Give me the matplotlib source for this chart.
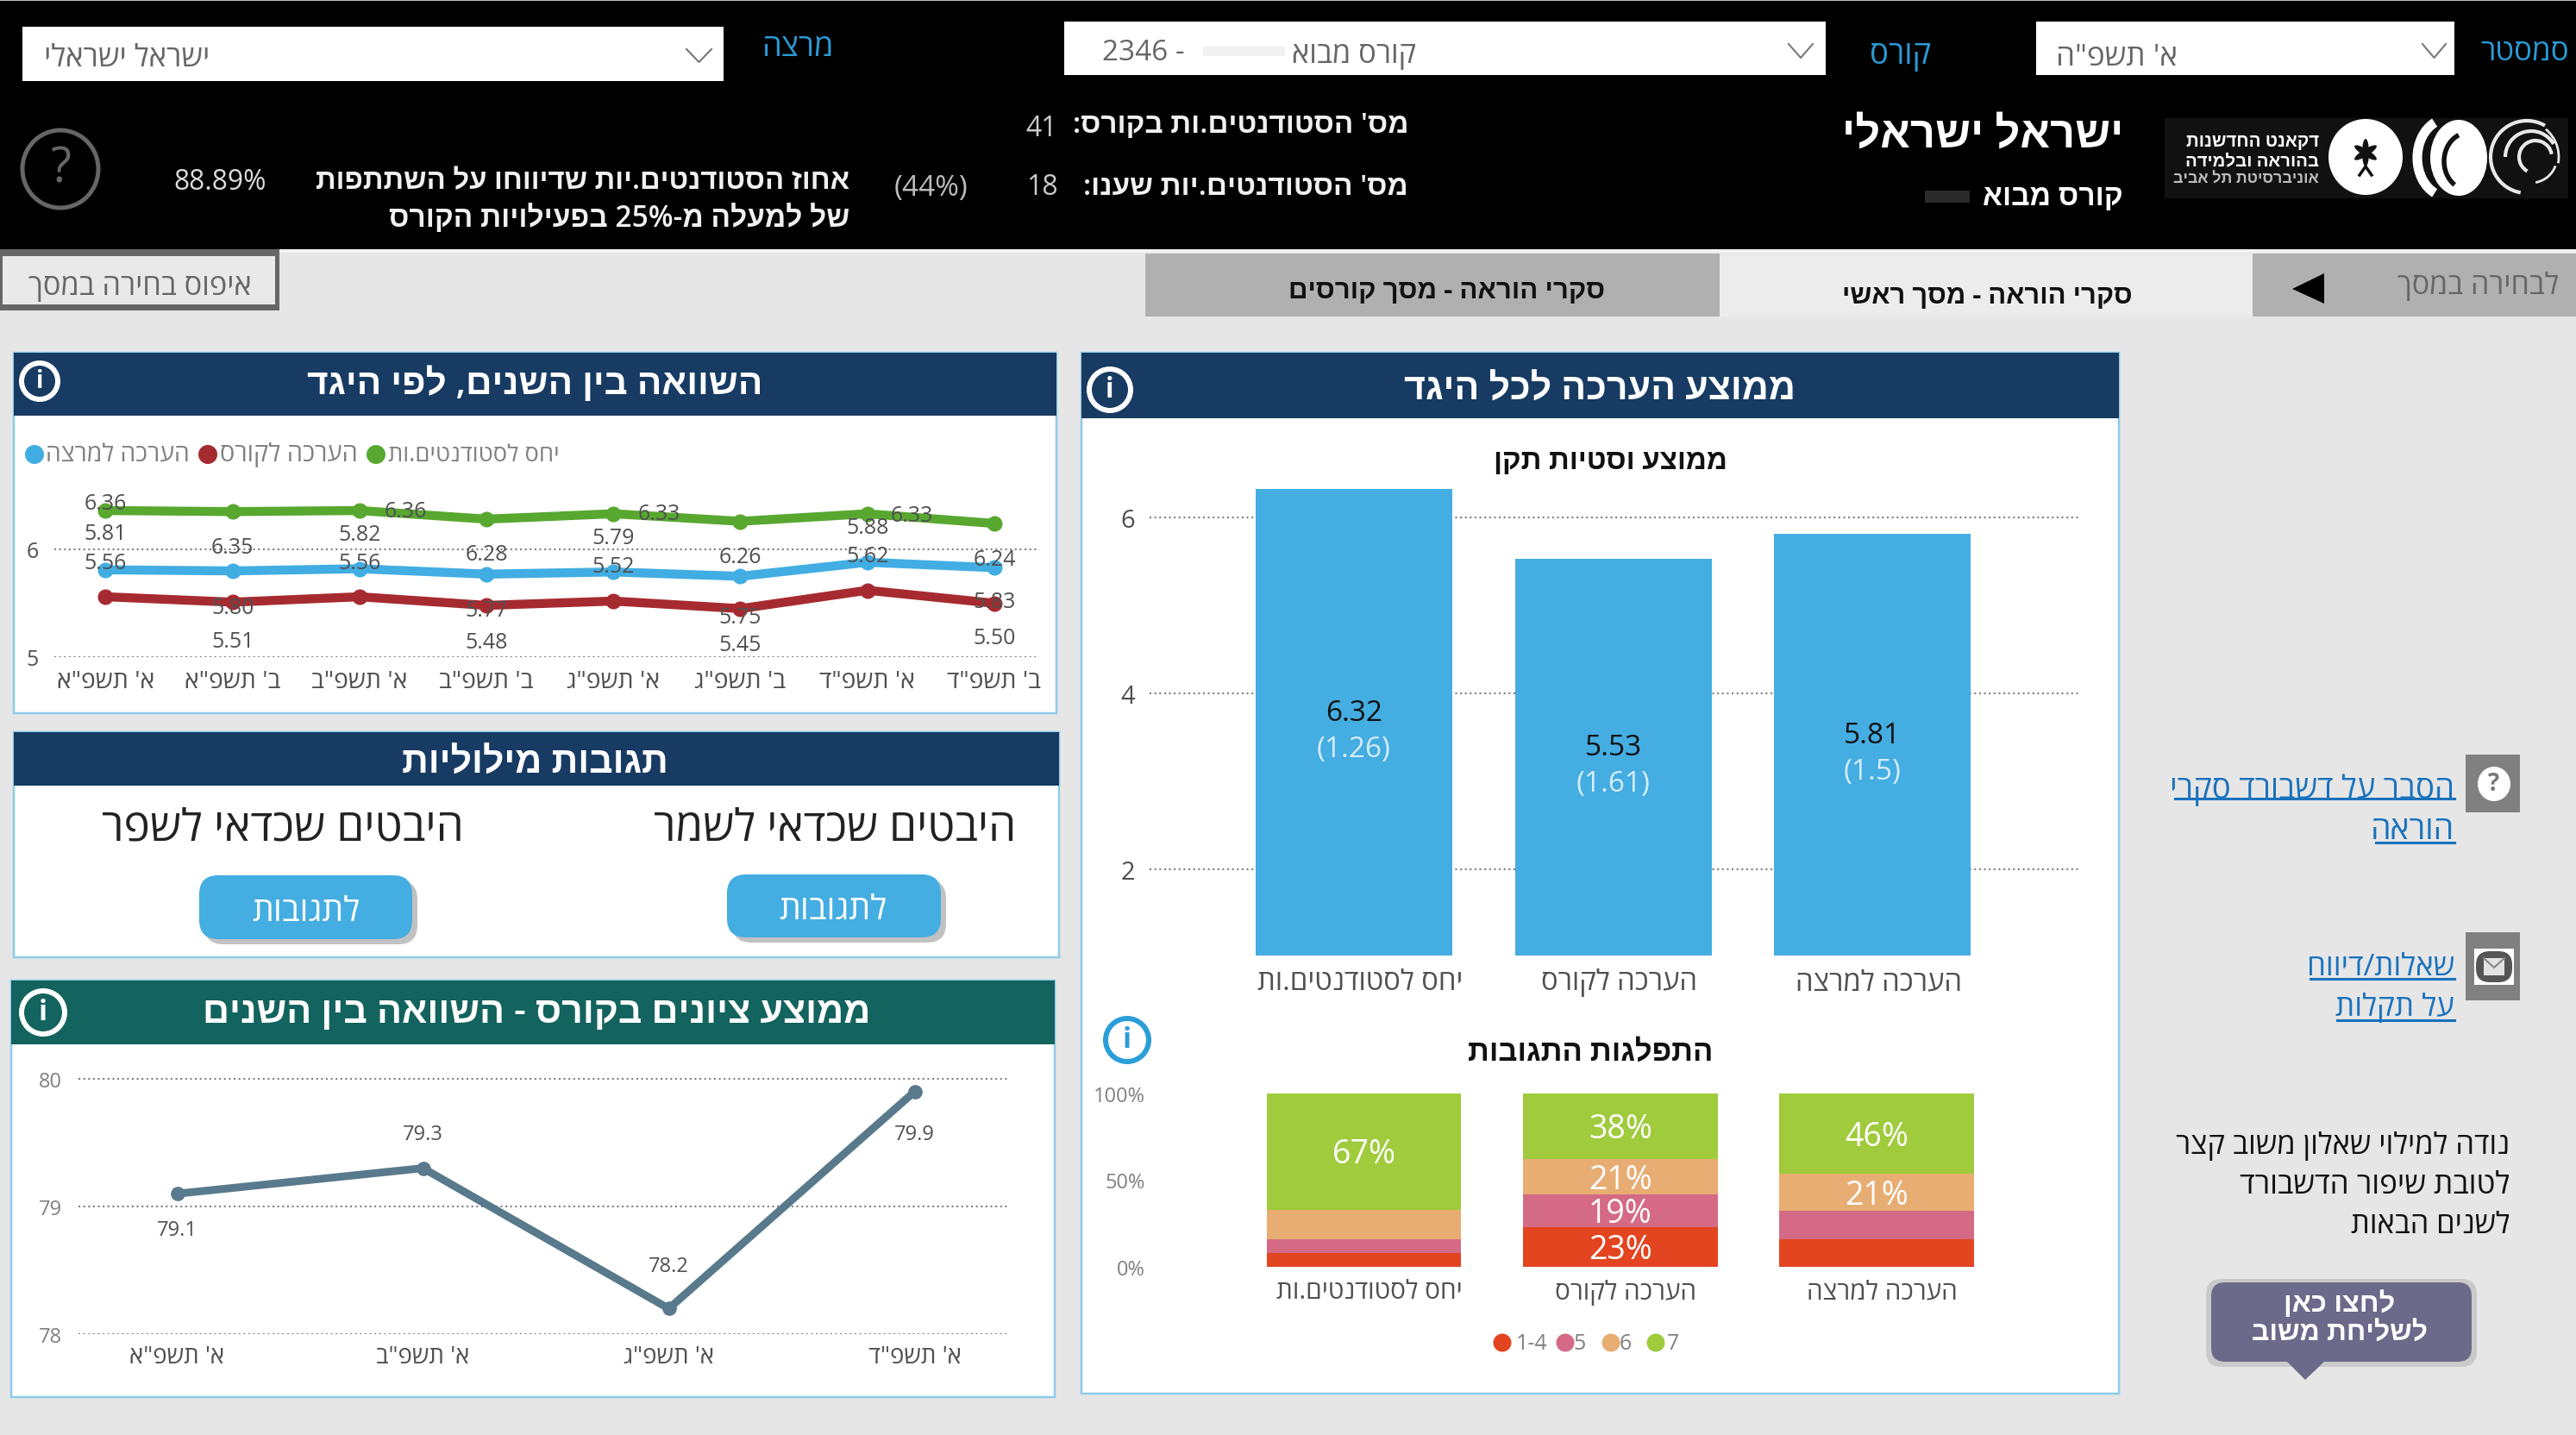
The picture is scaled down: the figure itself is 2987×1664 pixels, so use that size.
import re
import matplotlib
matplotlib.use("Agg")
import matplotlib.pyplot as plt
from matplotlib.patches import Rectangle, Ellipse, FancyBboxPatch, Polygon, Arc
from matplotlib.textpath import TextPath
from matplotlib.font_manager import FontProperties
from matplotlib.transforms import ScaledTranslation

FAMILY = ['Open Sans', 'Liberation Sans', 'DejaVu Sans']
plt.rcParams['font.family'] = FAMILY

# ---------- data ----------
semesters = ["א' תשפ\"א", "ב' תשפ\"א", "א' תשפ\"ב", "ב' תשפ\"ב",
             "א' תשפ\"ג", "ב' תשפ\"ג", "א' תשפ\"ד", "ב' תשפ\"ד"]
attitude = [6.36, 6.35, 6.36, 6.28, 6.33, 6.26, 6.33, 6.24]
lecturer = [5.81, 5.80, 5.82, 5.77, 5.79, 5.75, 5.88, 5.83]
course = [5.56, 5.51, 5.56, 5.48, 5.52, 5.45, 5.62, 5.50]

grade_years = ["א' תשפ\"א", "א' תשפ\"ב", "א' תשפ\"ג", "א' תשפ\"ד"]
grades = [79.1, 79.3, 78.2, 79.9]

items = ["יחס לסטודנטים.ות", "הערכה לקורס", "הערכה למרצה"]
means = [6.32, 5.53, 5.81]
stds = [1.26, 1.61, 1.5]

stack_levels = ["1-4", "5", "6", "7"]
share_1_4 = [8, 23, 16]
share_5 = [8, 19, 16]
share_6 = [17, 21, 21]
share_7 = [67, 38, 46]
shown_1_4 = [False, True, False]
shown_5 = [False, True, False]
shown_6 = [False, True, True]
shown_7 = [True, True, True]

# ---------- style ----------
W, H = 2987, 1665
BG = '#e6e6e6'
NAVY = '#173b63'
TEAL = '#13635f'
BORDER = '#8fcbea'
BLUE = '#44ade2'
C_GREEN, C_BLUE, C_RED = '#58a830', '#41ade3', '#a62b30'
STACK = ['#e2451f', '#d46a85', '#e8ad73', '#9fcb3c']
GRAY = '#505050'
LINK = '#1a72bd'
SEMI = 'semibold'

fig = plt.figure(figsize=(W / 100, H / 100), dpi=100, facecolor=BG)
ax0 = fig.add_axes([0, 0, 1, 1])
ax0.set_xlim(0, W)
ax0.set_ylim(H, 0)
ax0.axis('off')


def he(s):
    """Hebrew to visual order, as matplotlib has no bidi layout."""
    return "".join(reversed(re.findall(r"\d[\d.,%]*|.", s)))


def fit(s, w, weight='normal'):
    tp = TextPath((0, 0), s, size=10, prop=FontProperties(family=FAMILY, weight=weight))
    return 10 * (w * 0.72) / tp.get_extents().width


def T(x, y, s, w=None, size=16, ha='center', color='black', weight='normal', hebrew=True):
    s = he(s) if hebrew else s
    if w:
        size = fit(s, w, weight)
    return ax0.text(x, y + 3, s, fontsize=size, ha=ha, va='center', color=color, weight=weight)


def rect(x0, y0, x1, y1, fc, ec='none', lw=0, z=1):
    ax0.add_patch(Rectangle((x0, y0), x1 - x0, y1 - y0, fc=fc, ec=ec, lw=lw * .72, zorder=z))


def rounded(x0, y0, x1, y1, r, fc, z=2, alpha=None):
    ax0.add_patch(FancyBboxPatch((x0 + r, y0 + r), x1 - x0 - 2 * r, y1 - y0 - 2 * r,
                                 boxstyle=f"round,pad={r},rounding_size={r}",
                                 fc=fc, ec='none', zorder=z, alpha=alpha))


def chart_axes(x0, y0, x1, y1):
    ax = fig.add_axes([x0 / W, 1 - y1 / H, (x1 - x0) / W, (y1 - y0) / H])
    ax.patch.set_alpha(0)
    for s in ax.spines.values():
        s.set_visible(False)
    return ax


def grid(ax):
    ax.grid(axis='y', color='#808080', lw=1.5, linestyle=(0, (1.0, 1.7)), zorder=0)
    ax.grid(axis='x', visible=False)
    ax.set_axisbelow(True)


def shift(labels, dx):
    for lb in labels:
        lb.set_transform(lb.get_transform() + ScaledTranslation(dx / 100, 0, fig.dpi_scale_trans))


def info(x, y, r, color='white', lw=6):
    ax0.add_patch(Ellipse((x, y), 2 * r, 2 * r, fc='none', ec=color, lw=lw * .72, zorder=5))
    ax0.text(x, y, 'i', fontsize=r * .95, ha='center', va='center', color=color, weight='bold', zorder=5)


def chevron(x0, x1, y0, y1):
    ax0.plot([x0, (x0 + x1) / 2, x1], [y0, y1, y0], color='#777777', lw=1.5, zorder=3)


# ---------- header ----------
rect(0, 0, W, 290, 'black')
rect(0, 0, W, 2, '#bbbbbb', z=2)
rect(0, 290, W, 294, '#f2f2f2', z=2)
for x0, x1, y0, y1 in [(26, 839, 32, 95), (1234, 2117, 26, 88), (2361, 2846, 26, 88)]:
    rect(x0, y0, x1, y1, 'white', z=2)
chevron(796, 825, 58, 73)
chevron(2074, 2102, 52, 68)
chevron(2809, 2836, 52, 68)
T(147, 65, "ישראל ישראלי", 187, color='#666666')
T(1326, 58, "2346 -", None, size=24, color='#666666', hebrew=False)
rect(1395, 55, 1490, 66, '#f1f1f1', z=3)
T(1570, 61, "קורס מבוא", 141, color='#666666')
T(2454, 64, "א' תשפ\"ה", 136, color='#666666')
T(926, 53, "מרצה", 77, color='#2b9ad6')
T(2204, 62, "קורס", 68, color='#2b9ad6')
T(2928, 58, "סמסטר", 100, color='#2b9ad6')

T(1633, 143, "מס' הסטודנטים.ות בקורס:", 385, ha='right', color='#f0f0f0', weight=SEMI)
T(1633, 215, "מס' הסטודנטים.יות שענו:", 373, ha='right', color='#f0f0f0', weight=SEMI)
T(1208, 146, "41", None, size=23, color='#cccccc', hebrew=False)
T(1208, 215, "18", None, size=23, color='#cccccc', hebrew=False)
T(1080, 215, "(44%)", 83, color='#bbbbbb', hebrew=False)
T(985, 208, "אחוז הסטודנטים.יות שדיווחו על השתתפות", 617, ha='right', color='#f0f0f0', weight=SEMI)
T(985, 251, "של למעלה מ-25% בפעילויות הקורס", 533, ha='right', color='#f0f0f0', weight=SEMI)
T(255, 209, "88.89%", 104, color='#dddddd', hebrew=False)
ax0.add_patch(Ellipse((70, 197), 88, 90, fc='none', ec='#666666', lw=3.6, zorder=3))
T(70, 194, "?", None, size=40, color='#666666', hebrew=False)

T(2299, 155, "ישראל ישראלי", 318, color='white', weight='bold')
T(2380, 226, "קורס מבוא", 160, color='white', weight='bold')
rect(2232, 222, 2284, 236, '#2a2a2a', z=2)

# logo
rect(2510, 138, 2978, 231, '#111111', z=2)
for yy, txt, ww, cc in [(161, "דקאנט החדשנות", 153, 'white'), (184, "בהוראה ובלמידה", 153, 'white'),
                        (205, "אוניברסיטת תל אביב", 169, '#bbbbbb')]:
    tx = T(2689, yy, txt, ww, ha='right', color=cc, weight='bold')
    tx.set_zorder(3)
ax0.add_patch(Ellipse((2743, 183), 86, 88, fc='white', zorder=3))
for ang, hh in [(0, 32), (58, 30), (-58, 30)]:
    ax0.add_patch(Ellipse((2743, 178), 8, hh, angle=ang, fc='#111111', zorder=4))
ax0.plot([2736, 2743, 2750], [204, 194, 204], color='#111111', lw=2.5, zorder=4)
ax0.add_patch(Ellipse((2851, 184), 66, 88, fc='white', zorder=3))
ax0.add_patch(Arc((2862, 188), 56, 66, theta1=120, theta2=250, ec='#111111', lw=4, zorder=4))
ax0.add_patch(Arc((2838, 184), 70, 90, theta1=110, theta2=250, ec='white', lw=8, zorder=3))
for cx, dd, t1, t2, lw_ in [(2930, 84, 100, 300, 3), (2935, 60, 180, 330, 3), (2935, 60, 20, 80, 2),
                            (2940, 38, 120, 350, 3), (2925, 84, 310, 370, 2)]:
    ax0.add_patch(Arc((cx, 183), dd, dd, theta1=t1, theta2=t2, ec='#e8e8e8', lw=lw_, zorder=3))

# ---------- tab row ----------
rect(0, 290, 324, 361, '#666666', z=2)
rect(3, 298, 319, 354, '#e9e9e9', z=3)
T(162, 330, "איפוס בחירה במסך", 256, color='#666666').set_zorder(4)
rect(1328, 295, 1994, 368, '#b0b0b0')
rect(1994, 297, 2612, 368, '#ececec')
rect(2612, 295, W, 368, '#b0b0b0')
T(1678, 335, "סקרי הוראה - מסך קורסים", 363, color='#111111', weight='bold')
T(2304, 341, "סקרי הוראה - מסך ראשי", 332, color='#111111', weight='bold')
T(2874, 329, "לבחירה במסך", 185, color='#666666')
ax0.add_patch(Polygon([[2658, 336], [2695, 318], [2695, 353]], fc='black', zorder=3))


# ---------- panels ----------
def panel(x0, y0, x1, ybar, y1, head):
    rect(x0, y0, x1, y1, 'white', BORDER, 2.5)
    rect(x0, y0, x1, ybar, head, z=2)


panel(16, 410, 1225, 483, 828, NAVY)
T(620, 443, "השוואה בין השנים, לפי היגד", 524, color='white', weight=SEMI)
info(46, 443, 21)
panel(16, 850, 1228, 912, 1111, NAVY)
T(620, 882, "תגובות מילוליות", 305, color='white', weight=SEMI)
panel(13, 1138, 1223, 1212, 1621, TEAL)
T(622, 1172, "ממוצע ציונים בקורס - השוואה בין השנים", 768, color='white', weight=SEMI)
info(50, 1175, 25)
panel(1254, 410, 2457, 486, 1617, NAVY)
T(1855, 449, "ממוצע הערכה לכל היגד", 450, color='white', weight=SEMI)
info(1287, 453, 24)

# verbal feedback panel
T(328, 958, "היבטים שכדאי לשפר", 415, color='#222222')
T(968, 958, "היבטים שכדאי לשמר", 415, color='#222222')
for x0, y0, x1, y1, tx, ty in [(231, 1016, 478, 1090, 355, 1055), (843, 1015, 1091, 1088, 966, 1053)]:
    rounded(x0 + 6, y0 + 6, x1 + 6, y1 + 6, 22, '#999999', z=2, alpha=.6)
    rounded(x0, y0, x1, y1, 22, BLUE, z=3)
    T(tx, ty, "לתגובות", 123, color='white').set_zorder(4)

# ---------- panel 1: line chart ----------
ax1 = chart_axes(63, 540, 1205, 763)
ax1.set_xlim((63 - 122.5) / 147.2, (1205 - 122.5) / 147.2)
ax1.set_ylim(5, 5 + (763 - 540) / 125)
xs1 = list(range(len(semesters)))
off_green = [(0, 8), (0, -41), (53, -1), (0, -41), (53, 0), (0, -41), (52, -2), (0, -42)]
off_blue = [(0, 42), (0, -43), (0, 40), (0, -42), (0, 40), (0, -47), (0, 40), (0, -39)]
off_red = [(0, 40), (0, -45), (0, 39), (0, -43), (0, 40), (0, -42), (0, 40), (0, -40)]
for series, col in [(course, C_RED), (lecturer, C_BLUE), (attitude, C_GREEN)]:
    ax1.plot(xs1, series, color=col, lw=7.5, marker='o', ms=12, zorder=3, clip_on=False)
for series, offs in [(course, off_red), (lecturer, off_blue), (attitude, off_green)]:
    for xv, v, off in zip(xs1, series, offs):
        ax1.annotate(f"{v:.2f}", (xv, v), xytext=off, textcoords='offset pixels', ha='center', va='center',
                     fontsize=18, color=GRAY, zorder=5, annotation_clip=False)
ax1.set_yticks([5, 6])
ax1.set_yticklabels(['5', '6'], fontsize=18, color=GRAY)
ax1.set_xticks(xs1)
ax1.set_xticklabels([he(s) for s in semesters], fontsize=fit(he(semesters[0]), 110), color=GRAY)
ax1.tick_params(length=0)
ax1.tick_params(axis='y', pad=13)
ax1.tick_params(axis='x', pad=10)
grid(ax1)
for cx, col, tx, tw, lab in [(40, C_BLUE, 136, 162, "הערכה למרצה"), (241, C_RED, 335, 156, "הערכה לקורס"),
                             (436, C_GREEN, 549, 195, "יחס לסטודנטים.ות")]:
    ax0.add_patch(Ellipse((cx, 528), 22, 22, fc=col, zorder=3))
    T(tx, 525, lab, tw, color='#808080')

# ---------- panel 3: grades ----------
ax3 = chart_axes(91, 1225, 1168, 1548)
ax3.set_xlim((91 - 205.5) / 285, (1168 - 205.5) / 285)
ax3.set_ylim(78, 78 + (1548 - 1225) / 148)
xs3 = list(range(len(grade_years)))
ax3.plot(xs3, grades, color='#597a8c', lw=6.5, marker='o', ms=11, zorder=3)
off_grades = [(0, -42), (0, 40), (0, 49), (0, -49)]
for xv, v, off in zip(xs3, grades, off_grades):
    ax3.annotate(f"{v:.1f}", (xv, v), xytext=off, textcoords='offset pixels', ha='center', va='center',
                 fontsize=17, color=GRAY, zorder=5)
ax3.set_yticks([78, 79, 80])
ax3.set_yticklabels(['78', '79', '80'], fontsize=17, color='#808080')
ax3.set_xticks(xs3)
ax3.set_xticklabels([he(s) for s in grade_years], fontsize=fit(he(grade_years[0]), 107), color=GRAY)
ax3.tick_params(length=0)
ax3.tick_params(axis='y', pad=14)
ax3.tick_params(axis='x', pad=9)
grid(ax3)

# ---------- panel 4: mean bars ----------
T(1867, 533, "ממוצע וסטיות תקן", 266, color='#111111', weight='bold')
ax4 = chart_axes(1333, 540, 2410, 1109)
xs4 = list(range(len(items)))
ax4.set_xlim((1333 - 1570) / 300.5, (2410 - 1570) / 300.5)
ax4.set_ylim(6 - (1109 - 601) / 102, 6 + (601 - 540) / 102)
ax4.bar(xs4, means, width=228 / 300.5, color=BLUE, zorder=3)
for xv, m, sd in zip(xs4, means, stds):
    mid = (ax4.get_ylim()[0] + m) / 2
    ax4.annotate(f"{m:.2f}", (xv, mid), xytext=(0, 11), textcoords='offset pixels', ha='center', va='center',
                 fontsize=24, color='#111111', zorder=5)
    ax4.annotate(f"({sd:g})", (xv, mid), xytext=(0, -31), textcoords='offset pixels', ha='center', va='center',
                 fontsize=24, color='#d5ecf8', zorder=5)
ax4.set_yticks([2, 4, 6])
ax4.set_yticklabels(['2', '4', '6'], fontsize=21, color=GRAY)
ax4.set_xticks(xs4)
ax4.set_xticklabels([he(s) for s in items], fontsize=fit(he(items[1]), 177), color=GRAY)
ax4.tick_params(length=0)
ax4.tick_params(axis='y', pad=12)
ax4.tick_params(axis='x', pad=10)
shift(ax4.get_xticklabels(), 7)
grid(ax4)

# ---------- panel 4: stacked bars ----------
T(1844, 1218, "התפלגות התגובות", 281, color='#111111', weight='bold')
info(1307, 1207, 25, color='#2b9ed8')
ax5 = chart_axes(1340, 1269, 2420, 1470)
xs5 = list(range(len(items)))
ax5.set_xlim((1340 - 1581.5) / 297.25, (2420 - 1581.5) / 297.25)
ax5.set_ylim(0, 100)
layers = [share_1_4, share_5, share_6, share_7]
shown = [shown_1_4, shown_5, shown_6, shown_7]
totals = [sum(lay[i] for lay in layers) for i in xs5]
bottoms = [0.0 for _ in xs5]
for lay, flag, col in zip(layers, shown, STACK):
    heights = [100 * v / t for v, t in zip(lay, totals)]
    ax5.bar(xs5, heights, bottom=bottoms, width=225.5 / 297.25, color=col, zorder=3)
    for i in xs5:
        if flag[i]:
            ax5.annotate(f"{lay[i]}%", (i, bottoms[i] + heights[i] / 2), xytext=(0, -3), textcoords='offset pixels',
                         ha='center', va='center', color='white', fontsize=27, zorder=5)
    bottoms = [b + h for b, h in zip(bottoms, heights)]
ax5.set_yticks([0, 50, 100])
ax5.set_yticklabels(['0%', '50%', '100%'], fontsize=17, color='#808080')
ax5.set_xticks(xs5)
ax5.set_xticklabels([he(s) for s in items], fontsize=fit(he(items[1]), 160), color=GRAY)
ax5.tick_params(length=0)
ax5.tick_params(axis='y', pad=9)
ax5.tick_params(axis='x', pad=10)
shift(ax5.get_xticklabels(), 6)
for cx, tx, col, lab in zip([1742, 1815, 1868, 1920], [1776, 1832, 1885, 1940], STACK, stack_levels):
    ax0.add_patch(Ellipse((cx, 1558), 21, 21, fc=col, zorder=3))
    T(tx, 1556, lab, None, size=18, color='#808080', hebrew=False)

# ---------- sidebar ----------
rect(2859, 876, 2922, 943, '#808080')
ax0.add_patch(Ellipse((2892, 910), 38, 40, fc='white', zorder=3))
T(2892, 907, "?", None, size=20, color='#777777', weight='bold', hebrew=False).set_zorder(4)
rect(2859, 1082, 2922, 1161, '#808080')
rect(2869, 1101, 2915, 1143, 'white', z=3)
rounded(2871, 1104, 2913, 1140, 16, '#555555', z=4)
rect(2880, 1112, 2904, 1132, '#e2e2e2', z=5)
ax0.plot([2880, 2892, 2904], [1112, 1123, 1112], color='#888888', lw=1.5, zorder=6)

for yy, yu, txt, x_left in [(913, 927, "הסבר על דשבורד סקרי", 2522), (961, 978, "הוראה", 2755),
                            (1119, 1136, "שאלות/דיווח", 2679), (1166, 1184, "על תקלות", 2710)]:
    T(2846, yy, txt, 2846 - x_left, ha='right', color=LINK)
    ax0.plot([x_left, 2846], [yu, yu], color=LINK, lw=2.2, zorder=3)
T(2910, 1326, "נודה למילוי שאלון משוב קצר", 383, ha='right', color='#111111')
T(2910, 1372, "לטובת שיפור הדשבורד", 311, ha='right', color='#111111')
T(2910, 1418, "לשנים הבאות", 183, ha='right', color='#111111')

rounded(2558, 1484, 2872, 1586, 18, '#aaaaaa', z=2, alpha=.45)
rounded(2564, 1488, 2866, 1580, 16, '#6b6a8a', z=3)
ax0.add_patch(Polygon([[2652, 1580], [2695, 1580], [2673, 1601]], fc='#6b6a8a', zorder=3))
T(2713, 1510, "לחצו כאן", 125, color='white', weight='bold').set_zorder(4)
T(2713, 1543, "לשליחת משוב", 201, color='white', weight='bold').set_zorder(4)

fig.savefig('out.png', dpi=100, facecolor=BG)
